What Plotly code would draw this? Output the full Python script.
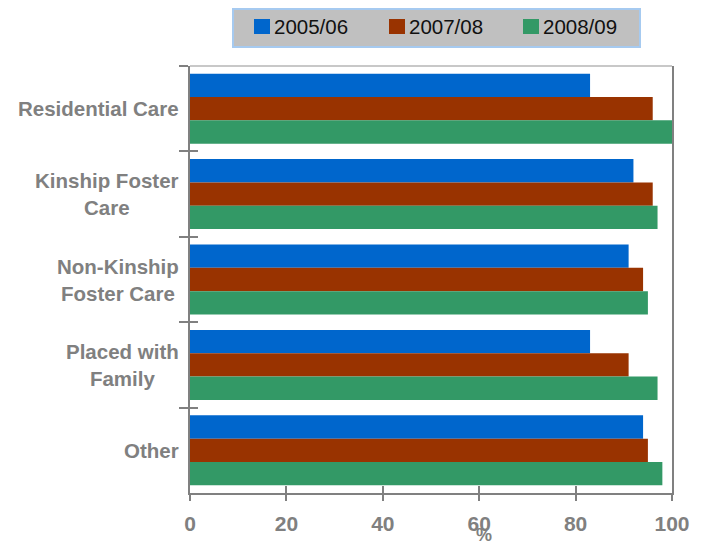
import plotly.graph_objects as go

# Placement categories (top to bottom) and the share (%) for each year
categories = ["Residential Care", "Kinship Foster Care", "Non-Kinship Foster Care",
              "Placed with Family", "Other"]
category_labels = ["Residential Care", "Kinship Foster<br>Care", "Non-Kinship<br>Foster Care",
                   "Placed with<br>Family", "Other"]
years = ["2005/06", "2007/08", "2008/09"]
values_2005_06 = [83, 92, 91, 83, 94]
values_2007_08 = [96, 96, 94, 91, 95]
values_2008_09 = [100, 97, 95, 97, 98]
x_ticks = [0, 20, 40, 60, 80, 100]
x_title = "%"

series = [values_2005_06, values_2007_08, values_2008_09]
colors = ["#0066CC", "#993300", "#339966"]
GRAY = "#808080"
FONT = "Liberation Sans, Arial, sans-serif"

W, H = 702, 544
M_L, M_R, M_T, M_B = 190, 30, 66, 51

fig = go.Figure()
for name, vals, col in zip(years, series, colors):
    fig.add_trace(go.Bar(
        y=categories, x=vals, name=name, orientation="h",
        marker=dict(color=col, line=dict(width=0)),
        showlegend=False, xaxis="x", yaxis="y",
    ))

# empty trace so the overlay axes (inner half of the crossing ticks) are drawn
fig.add_trace(go.Scatter(x=[], y=[], xaxis="x2", yaxis="y2", showlegend=False,
                         hoverinfo="skip"))

n = len(categories)
boundaries = [i - 0.5 for i in range(n + 1)]

fig.update_layout(
    width=W, height=H,
    margin=dict(l=M_L, r=M_R, t=M_T, b=M_B, autoexpand=False),
    paper_bgcolor="white", plot_bgcolor="white",
    barmode="group", bargap=0.18, bargroupgap=0,
    showlegend=False,
    xaxis=dict(
        range=[0, 100], tickvals=x_ticks, ticks="outside", ticklen=6,
        tickwidth=2, tickcolor=GRAY, showline=True, linecolor=GRAY, linewidth=2,
        showgrid=False, zeroline=False, ticklabelstandoff=5, automargin=False,
        tickfont=dict(family=FONT, size=21, color=GRAY, weight="bold"),
    ),
    xaxis2=dict(
        overlaying="x", range=[0, 100], tickvals=x_ticks, ticks="inside",
        ticklen=7, tickwidth=2, tickcolor=GRAY, showticklabels=False,
        showline=False, showgrid=False, zeroline=False, side="bottom",
        automargin=False,
    ),
    yaxis=dict(
        type="category", categoryarray=categories, categoryorder="array",
        autorange="reversed", tickson="boundaries", ticks="outside", ticklen=9,
        tickwidth=2, tickcolor=GRAY, showticklabels=False,
        showline=True, mirror=True, linecolor=GRAY, linewidth=2,
        showgrid=False, zeroline=False, automargin=False,
    ),
    yaxis2=dict(
        overlaying="y", range=[n - 0.5, -0.5], tickvals=boundaries,
        ticks="inside", ticklen=8, tickwidth=2, tickcolor=GRAY,
        showticklabels=False, showline=False, showgrid=False, zeroline=False,
        side="left", automargin=False,
    ),
)

# light top border of the plot area
fig.add_shape(type="line", xref="paper", yref="paper", x0=0, x1=1, y0=1, y1=1,
              line=dict(color="#C8C8C8", width=2))

# centred, multi-line category labels left of the axis
for cat, lab in zip(categories, category_labels):
    fig.add_annotation(
        xref="paper", x=0, xanchor="right", xshift=-9,
        yref="y", y=cat, yanchor="middle",
        text=lab, showarrow=False, align="center",
        font=dict(family=FONT, size=20.5, color=GRAY, weight="bold"),
    )

# axis title tucked right under the tick labels
fig.add_annotation(
    xref="x", x=61, yref="paper", y=0, yanchor="top", yshift=-30,
    text=x_title, showarrow=False,
    font=dict(family=FONT, size=18, color=GRAY, weight="bold"),
)

# legend box drawn in pixel terms relative to the plot area
pw, ph = W - M_L - M_R, H - M_T - M_B


def px_x(p):
    return (p - M_L) / pw


def px_y(p):
    return (H - M_B - p) / ph


fig.add_shape(type="rect", xref="paper", yref="paper",
              x0=px_x(233), x1=px_x(640), y0=px_y(47), y1=px_y(9),
              fillcolor="#C0C0C0", line=dict(color="#A6CAF0", width=2))
legend_left = [254, 389, 523]
for name, col, lx in zip(years, colors, legend_left):
    fig.add_shape(type="rect", xref="paper", yref="paper",
                  x0=px_x(lx), x1=px_x(lx + 16), y0=px_y(34), y1=px_y(19),
                  fillcolor=col, line=dict(width=0))
    fig.add_annotation(
        xref="paper", x=px_x(lx + 18), xanchor="left",
        yref="paper", y=px_y(26.5), yanchor="middle",
        text=name, showarrow=False,
        font=dict(family=FONT, size=20.5, color="#111111"),
    )

fig.write_html("out.html")
